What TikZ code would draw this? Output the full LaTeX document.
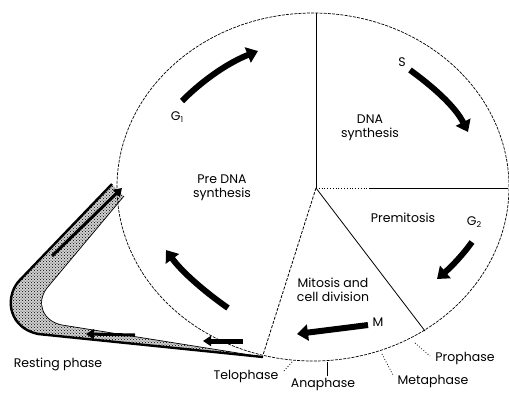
\documentclass[tikz,border=0pt]{standalone}
\usepackage{fontspec}
\setmainfont{Poppins}
\usetikzlibrary{arrows.meta,patterns}
\begin{document}
\begin{tikzpicture}[x=1pt,y=-1pt,
  rim/.style={line width=0.7pt,dash pattern=on 3pt off 1.2pt},
  divider/.style={line width=0.8pt},
  bigarrow/.style={line width=6pt,-{Triangle[length=11pt,width=16pt]}},
  bandarrow/.style={line width=3pt,-{Triangle[length=8pt,width=10pt]}},
  lbl/.style={font=\fontsize{12.5}{14}\selectfont,inner sep=0pt,align=center},
  leader/.style={line width=0.8pt,dotted},
]
\useasboundingbox (0,0) rectangle (509,392);
% resting phase band
\path[fill=black!18]
  (112,184) -- (18,282) .. controls (4,300) and (10,328) .. (38,334) -- (263,357)
  -- (62,325) .. controls (42,321) and (36,302) .. (47,288) -- (124,196) -- cycle;
\path[pattern=crosshatch dots,pattern color=black]
  (112,184) -- (18,282) .. controls (4,300) and (10,328) .. (38,334) -- (263,357)
  -- (62,325) .. controls (42,321) and (36,302) .. (47,288) -- (124,196) -- cycle;
\draw[line width=2.4pt] (112,184) -- (18,282) .. controls (4,300) and (10,328) .. (38,334) -- (263,357);
\draw[line width=0.7pt] (263,357) -- (62,325) .. controls (42,321) and (36,302) .. (47,288) -- (124,196);
% cell cycle ellipse
\coordinate (c) at (316,188);
\draw[rim] (313,187) ellipse [x radius=196pt, y radius=174pt];
\coordinate (top) at (316,13);
\coordinate (right) at (508,188);
\coordinate (hdot) at (370,188);
\coordinate (pro) at (425,331);
\coordinate (telo) at (263,355);
\draw[divider] (c) -- (top);
\draw[divider,dotted] (c) -- (hdot);
\draw[divider] (hdot) -- (right);
\draw[divider] (c) -- (pro);
\draw[divider,dash pattern=on 3pt off 1.5pt] (c) -- (telo);
% big arrows
\coordinate (g1a) at (182,101); \coordinate (g1b) at (258,51);
\draw[bigarrow] (g1a) .. controls (205,78) and (230,62) .. (g1b);
\coordinate (sa) at (410,70); \coordinate (sb) at (468,132);
\draw[bigarrow] (sa) .. controls (432,86) and (455,106) .. (sb);
\coordinate (g2a) at (472,242); \coordinate (g2b) at (437,279);
\draw[bigarrow] (g2a) .. controls (462,256) and (450,268) .. (g2b);
\coordinate (ma) at (368,325); \coordinate (mb) at (297,334);
\draw[bigarrow] (ma) .. controls (345,328) and (320,331) .. (mb);
\coordinate (pa) at (228,308); \coordinate (pb) at (166,250);
\draw[bigarrow] (pa) .. controls (205,292) and (182,272) .. (pb);
% band arrows
\coordinate (ba1) at (52,256); \coordinate (bb1) at (122,188);
\draw[bandarrow] (ba1) -- (bb1);
\coordinate (ba2) at (135,335); \coordinate (bb2) at (86,334);
\draw[bandarrow] (ba2) -- (bb2);
\coordinate (ba3) at (243,341); \coordinate (bb3) at (203,341);
\draw[bandarrow,line width=5pt] (ba3) -- (bb3);
% labels
\node[lbl] (g1) at (177,117) {G\raisebox{-0.35ex}{\fontsize{8}{9}\selectfont 1}};
\node[lbl] (s) at (402,62) {S};
\node[lbl] (g2) at (474,222) {G\raisebox{-0.35ex}{\fontsize{8}{9}\selectfont 2}};
\node[lbl] (m) at (378,322) {M};
\node[lbl] (pre) at (222,188) {Pre DNA\\synthesis};
\node[lbl] (dna) at (370,128) {DNA\\synthesis};
\node[lbl] (prem) at (403,218) {Premitosis};
\node[lbl] (mit) at (333,290) {Mitosis and\\cell division};
\node[lbl] (rest) at (58,364) {Resting phase};
\node[lbl] (telol) at (246,376) {Telophase};
\node[lbl] (ana) at (323,384) {Anaphase};
\node[lbl] (meta) at (433,381) {Metaphase};
\node[lbl] (prol) at (465,358) {Prophase};
% leaders
\coordinate (t1) at (292,362); \coordinate (t2) at (284,371);
\draw[leader] (t1) -- (t2);
\coordinate (a1) at (327,362); \coordinate (a2) at (327,376);
\draw[line width=0.8pt] (a1) -- (a2);
\coordinate (me1) at (382,354); \coordinate (me2) at (393,375);
\draw[leader] (me1) -- (me2);
\coordinate (p1) at (415,343); \coordinate (p2) at (430,356);
\draw[leader] (p1) -- (p2);
\end{tikzpicture}
\end{document}
